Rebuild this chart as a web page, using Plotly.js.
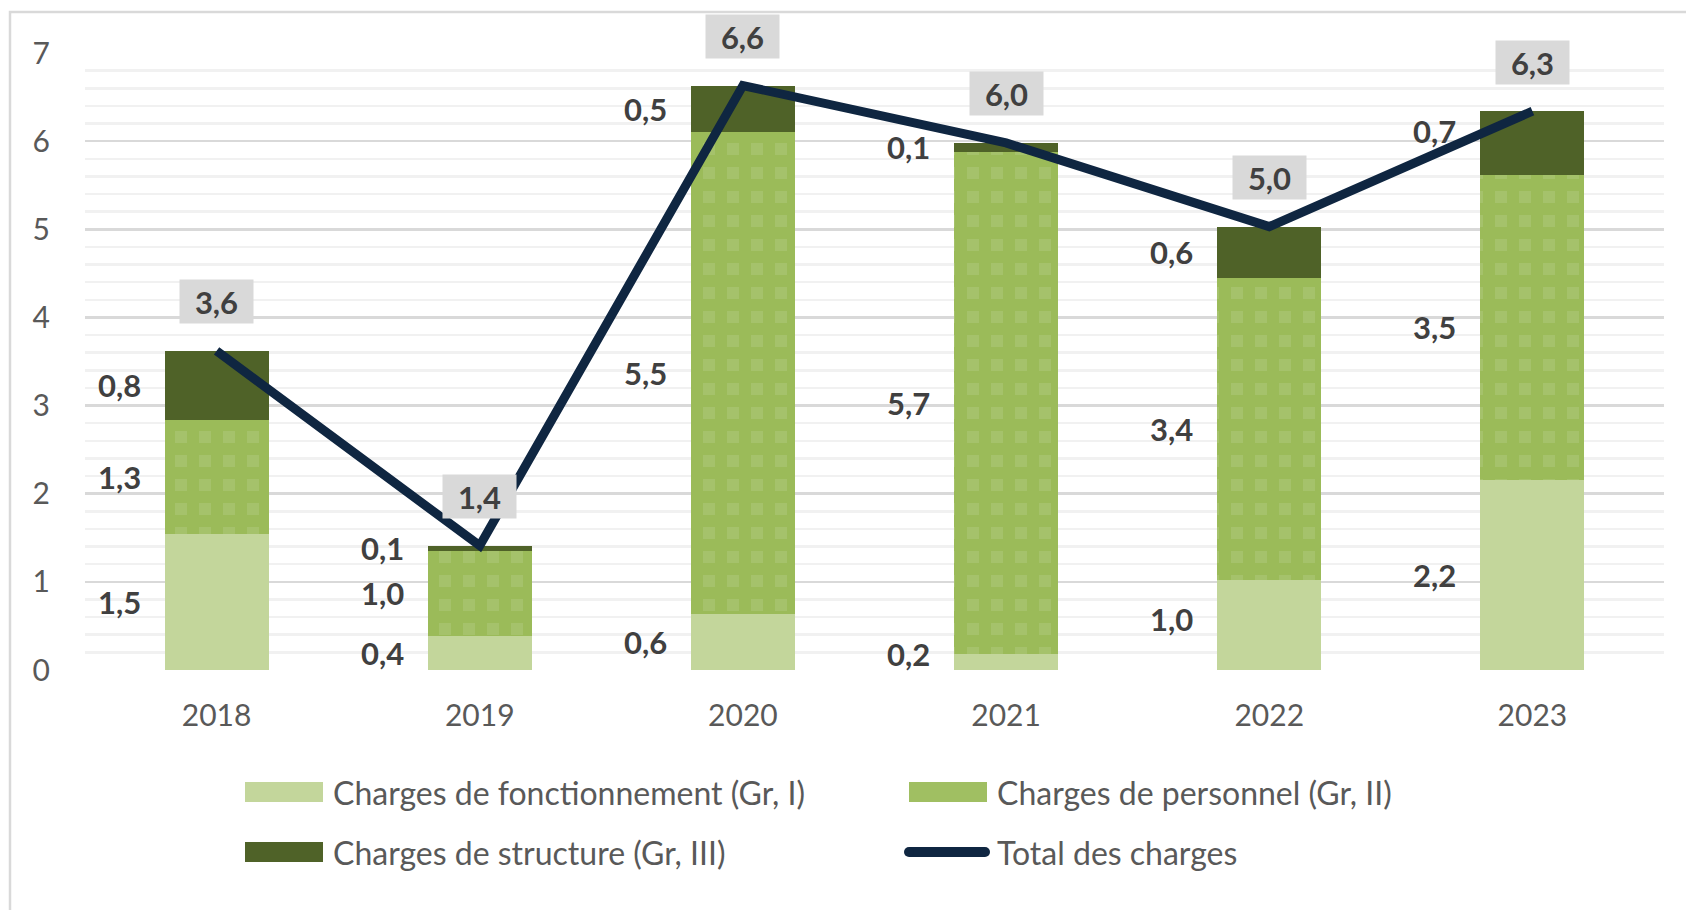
<!DOCTYPE html>
<html><head><meta charset="utf-8">
<script src="https://cdn.plot.ly/plotly-3.0.1.min.js"></script>
<style>html,body{margin:0;padding:0;background:#fff;overflow:hidden} #chart{width:1686px;height:910px;}</style>
</head><body><div id="chart"></div>
<script>
// ---- data ----
const years = ['2018', '2019', '2020', '2021', '2022', '2023'];
const chargesFonctionnement = [1.54, 0.39, 0.64, 0.18, 1.02, 2.16];
const chargesPersonnel      = [1.30, 0.96, 5.46, 5.70, 3.43, 3.46];
const chargesStructure      = [0.78, 0.06, 0.53, 0.10, 0.58, 0.72];
const totalCharges = years.map((_, i) => chargesFonctionnement[i] + chargesPersonnel[i] + chargesStructure[i]);
const seriesNames = ['Charges de fonctionnement (Gr, I)', 'Charges de personnel (Gr, II)',
                     'Charges de structure (Gr, III)', 'Total des charges'];

// ---- style ----
const W = 1686, H = 910;
const M = {l: 85, r: 22, t: 53, b: 240};
const PW = W - M.l - M.r, PH = H - M.t - M.b;
const px = x => (x - M.l) / PW;
const py = y => (H - M.b - y) / PH;
const FONT = 'Lato, "Open Sans", sans-serif';
const colI = '#c3d69b', colII = '#9bbb59', colIIsq = '#a5c26b', colIII = '#4f6228', colLine = '#0f2641';
const fmt = v => v.toFixed(1).replace('.', ',');
// small label nudges (pixels) as placed in the original: [series][yearIndex]
const labelNudge = {'2-5': 12, '0-3': 8, '0-4': 6};

const traces = [
  {type: 'bar', x: years, y: chargesFonctionnement, name: seriesNames[0],
   marker: {color: colI, line: {width: 0}}},
  {type: 'bar', x: years, y: chargesPersonnel, name: seriesNames[1],
   marker: {color: colII, line: {width: 0},
            pattern: {shape: '+', size: 24, solidity: 0.75, fgcolor: colII, bgcolor: colIIsq, fillmode: 'replace'}}},
  {type: 'bar', x: years, y: chargesStructure, name: seriesNames[2],
   marker: {color: colIII, line: {width: 0}}},
  {type: 'scatter', mode: 'lines', x: years, y: totalCharges, name: seriesNames[3],
   line: {color: colLine, width: 9}}
];

const annotations = [];
const stacks = [chargesFonctionnement, chargesPersonnel, chargesStructure];
years.forEach((yr, i) => {
  let base = 0;
  stacks.forEach((arr, s) => {
    const v = arr[i];
    annotations.push({x: i, y: base + v / 2, xref: 'x', yref: 'y', text: fmt(v), showarrow: false,
      xanchor: 'right', yanchor: 'middle', xshift: -74, yshift: labelNudge[s + '-' + i] || 0,
      font: {family: FONT, size: 31, color: '#404040', weight: 'bold'}});
    base += v;
  });
  annotations.push({x: i, y: totalCharges[i], xref: 'x', yref: 'y', text: fmt(totalCharges[i]), showarrow: false,
    xanchor: 'center', yanchor: 'middle', yshift: 49, bgcolor: '#d9d9d9', borderpad: 0, width: 73, height: 43,
    font: {family: FONT, size: 31, color: '#404040', weight: 'bold'}});
});

// legend (custom, two columns)
const legendItems = [
  {name: seriesNames[0], col: 0, row: 0, kind: 'rect', color: colI},
  {name: seriesNames[1], col: 1, row: 0, kind: 'rect', color: '#a0bf62'},
  {name: seriesNames[2], col: 0, row: 1, kind: 'rect', color: colIII},
  {name: seriesNames[3], col: 1, row: 1, kind: 'line', color: colLine}
];
const colX = [245, 909], rowY = [792, 852];
const shapes = [];
legendItems.forEach(it => {
  const x0 = colX[it.col], yc = rowY[it.row];
  if (it.kind === 'rect') {
    shapes.push({type: 'rect', xref: 'paper', yref: 'paper', x0: px(x0), x1: px(x0 + 78), y0: py(yc + 10), y1: py(yc - 10),
      fillcolor: it.color, line: {width: 0}});
  } else {
    shapes.push({type: 'line', xref: 'paper', yref: 'paper', x0: px(x0), x1: px(x0 + 76), y0: py(yc), y1: py(yc),
      line: {color: it.color, width: 10}});
    [x0, x0 + 76].forEach(cx => shapes.push({type: 'circle', xref: 'paper', yref: 'paper',
      xsizemode: 'pixel', ysizemode: 'pixel', xanchor: px(cx), yanchor: py(yc),
      x0: -5, x1: 5, y0: -5, y1: 5, fillcolor: it.color, line: {width: 0}}));
  }
  annotations.push({xref: 'paper', yref: 'paper', x: px(x0 + 86), y: py(yc), text: it.name, showarrow: false,
    xanchor: 'left', yanchor: 'middle', font: {family: FONT, size: 32, color: '#595959'}});
});
// outer frame
shapes.push({type: 'rect', xref: 'paper', yref: 'paper', x0: px(10), x1: px(W + 20), y0: py(H + 20), y1: py(12),
  line: {color: '#d9d9d9', width: 2.5}, fillcolor: 'rgba(0,0,0,0)', layer: 'below'});

const layout = {
  width: W, height: H, margin: M, paper_bgcolor: '#fff', plot_bgcolor: '#fff',
  barmode: 'stack', bargap: 0.605, showlegend: false, hovermode: false,
  font: {family: FONT, size: 30, color: '#595959'},
  xaxis: {type: 'category', range: [-0.5, 5.5], showgrid: false, zeroline: false, showline: false, ticks: '',
          ticklabelstandoff: 25, tickfont: {family: FONT, size: 30, color: '#595959'}},
  yaxis: {range: [0, 7], dtick: 1, showgrid: true, gridcolor: '#d9d9d9', gridwidth: 2.5, zeroline: false,
          showline: false, ticks: '', ticklabelstandoff: 34, tickfont: {family: FONT, size: 30, color: '#595959'},
          minor: {dtick: 0.2, showgrid: true, gridcolor: '#f1f1f1', gridwidth: 2.5}},
  annotations, shapes
};
Plotly.newPlot('chart', traces, layout, {displayModeBar: false, staticPlot: true});
</script></body></html>
